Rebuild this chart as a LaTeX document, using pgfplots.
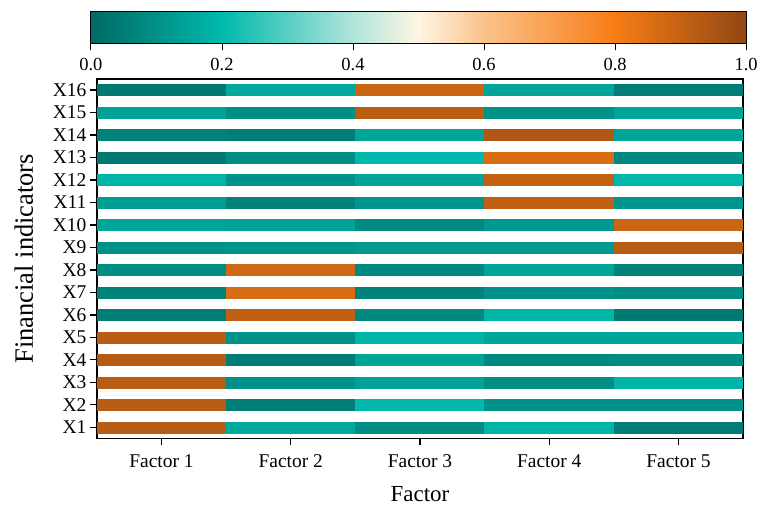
\documentclass[border=0pt]{standalone}
\usepackage{fontspec}
\setmainfont{Liberation Serif}
\usepackage{pgfplots}
\usepackage{pgfplotstable}
\pgfplotsset{compat=1.18}

% factor loadings: rows X1..X16, columns Factor 1..5
\pgfplotstableread{
F1   F2   F3   F4   F5
0.92 0.16 0.09 0.19 0.05
0.92 0.05 0.20 0.10 0.10
0.92 0.10 0.14 0.09 0.19
0.93 0.05 0.15 0.08 0.09
0.92 0.10 0.19 0.15 0.15
0.05 0.91 0.08 0.19 0.04
0.06 0.86 0.06 0.10 0.09
0.09 0.88 0.08 0.15 0.06
0.10 0.11 0.12 0.12 0.92
0.15 0.14 0.08 0.12 0.89
0.13 0.06 0.11 0.91 0.11
0.19 0.10 0.15 0.90 0.20
0.04 0.09 0.20 0.86 0.08
0.06 0.05 0.15 0.94 0.15
0.14 0.09 0.92 0.10 0.15
0.04 0.16 0.89 0.15 0.05
}\loadings

\begin{document}
\begin{tikzpicture}
\begin{axis}[
  name=main,
  scale only axis,
  width=647bp, height=360bp,
  xmin=0.5, xmax=5.5, ymin=0.5, ymax=16.5,
  xtick={1,2,3,4,5},
  xticklabels={Factor 1,Factor 2,Factor 3,Factor 4,Factor 5},
  ytick={1,...,16},
  yticklabels={X1,X2,X3,X4,X5,X6,X7,X8,X9,X10,X11,X12,X13,X14,X15,X16},
  tick align=outside,
  xtick pos=left, ytick pos=left,
  major tick length=7bp,
  xticklabel shift=6bp,
  axis line style={line width=1.3bp},
  every tick/.style={black, line width=1.3bp},
  tick label style={font=\fontsize{19.5bp}{21bp}\selectfont},
  xlabel style={font=\fontsize{23bp}{26bp}\selectfont, yshift=-12bp},
  ylabel style={font=\fontsize{26.5bp}{29bp}\selectfont, yshift=13bp},
  xlabel={Factor},
  ylabel={Financial indicators},
  colormap={tealorange}{rgb255(0cm)=(0,105,100) rgb255(2cm)=(0,185,172) rgb255(4cm)=(175,228,218) rgb255(5cm)=(255,246,228) rgb255(6cm)=(250,195,140) rgb255(8cm)=(248,125,22) rgb255(10cm)=(145,72,18)},
  point meta min=0, point meta max=1,
  colorbar horizontal,
  colorbar sampled,
  colorbar style={
    samples=201,
    at={(parent axis.north)}, anchor=south, yshift=44bp, xshift=-1.5bp,
    width=656bp, height=32bp,
    xtick={0,0.2,0.4,0.6,0.8,1},
    xticklabels={0.0,0.2,0.4,0.6,0.8,1.0},
    xtick pos=left, xtick align=outside,
    major tick length=7bp,
    xticklabel shift=4bp,
    every tick/.style={black, line width=0.8bp},
    axis line style={line width=0.8bp},
    xticklabel style={font=\fontsize{18.5bp}{20bp}\selectfont},
    ytick=\empty,
  },
]
\foreach \r in {0,...,15}{
  \foreach \c in {1,...,5}{
    \pgfplotstablegetelem{\r}{F\c}\of\loadings
    \pgfmathsetmacro\xa{\c-0.5}
    \pgfmathsetmacro\xb{\c+0.5}
    \pgfmathsetmacro\ya{\r+1-0.245}
    \pgfmathsetmacro\yb{\r+1+0.245}
    \edef\temp{\noexpand\addplot[patch, patch type=rectangle, shader=flat, draw=none, point meta=explicit] coordinates {(\xa,\ya) [\pgfplotsretval] (\xb,\ya) [\pgfplotsretval] (\xb,\yb) [\pgfplotsretval] (\xa,\yb) [\pgfplotsretval]};}
    \temp
  }
}
\end{axis}
\path ([xshift=-97bp,yshift=-65bp]main.south west) rectangle ++(761bp,504bp);
\end{tikzpicture}
\end{document}
